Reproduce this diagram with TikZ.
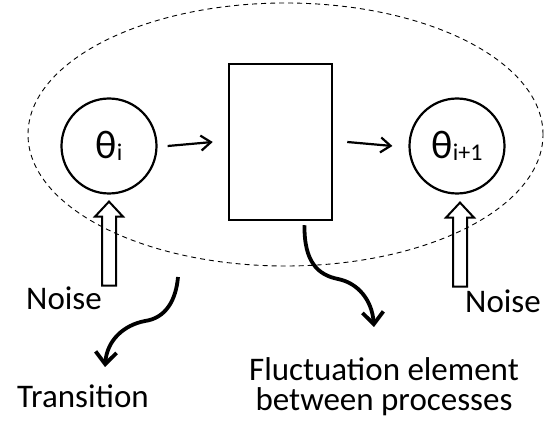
\documentclass[tikz,border=0pt]{standalone}
\usepackage{fontspec}
\setmainfont{Carlito}
\usetikzlibrary{arrows.meta,calc}
\begin{document}
\begin{tikzpicture}[x=1pt,y=-1pt,
  state/.style={draw,circle,line width=2.2pt,minimum size=95pt,inner sep=0pt},
  proc/.style={draw,rectangle,line width=2.5pt,minimum width=103pt,minimum height=156pt,inner sep=0pt},
  lbl/.style={font=\fontsize{33}{30}\selectfont,inner sep=0pt,anchor=base},
  flow/.style={line width=2.2pt,-{Straight Barb[length=10pt,width=15pt,line width=2.2pt]}},
  curly/.style={line width=3.8pt,-{Straight Barb[length=12pt,width=21pt,line width=3.8pt]}},
  hollow/.style={line width=2pt,line join=miter},
  group/.style={line width=0.9pt,dash pattern=on 5pt off 4pt}]
\useasboundingbox (0,0) rectangle (558,425);
\draw[group] (285.5,134.5) ellipse [x radius=257.5pt, y radius=131.5pt];
\node[state] (c1) at (109,146) {\fontsize{40}{40}\selectfont θ\raisebox{-2pt}{\fontsize{24}{24}\selectfont i}};
\node[state] (c2) at (457,146) {\fontsize{40}{40}\selectfont θ\raisebox{-2pt}{\fontsize{24}{24}\selectfont i+1}};
\node[proc] (p) at (280.5,142) {};
\draw[flow] ($(c1.east)+(10,0)$) -- ($(p.west)+(-15,0)$);
\draw[flow] ($(p.east)+(14,0)$) -- ($(c2.west)+(-16,0)$);
\node[lbl] (n1) at (64,310) {Noise};
\node[lbl] (n2) at (503,313) {Noise};
\node[lbl] (tr) at (83,407) {Transition};
\node[lbl,align=center] (fl) at (384,410) {Fluctuation element\\between processes};
\draw[hollow] ($(c1.south)+(0,7)$) -- ++(14,15) -- ++(-7,0) -- ++(0,69) -- ++(-14,0) -- ++(0,-69) -- ++(-7,0) -- cycle;
\draw[hollow] ($(c2.south)+(3,8)$) -- ++(14,15) -- ++(-7,0) -- ++(0,69) -- ++(-14,0) -- ++(0,-69) -- ++(-7,0) -- cycle;
\coordinate (ts) at (178,277);
\coordinate (te) at (105,367);
\draw[curly] (ts) .. controls (176,300) and (166,318) .. (145,321) .. controls (124,325) and (107,340) .. (te);
\coordinate (fs) at ($(p.south)+(24,4)$);
\coordinate (fe) at (374,327);
\draw[curly] (fs) .. controls (304,262) and (318,275) .. (338,279) .. controls (358,283) and (372,300) .. (fe);
\end{tikzpicture}
\end{document}
